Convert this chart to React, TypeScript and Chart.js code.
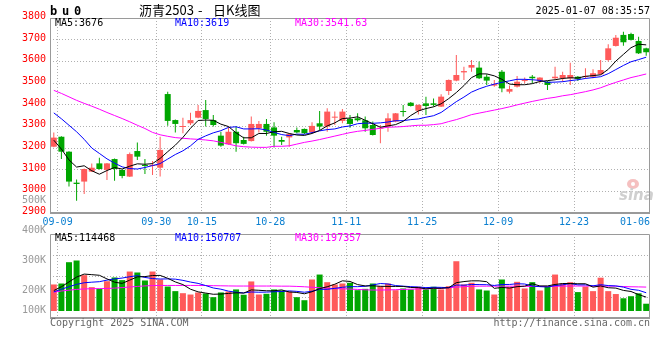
import React, { useEffect, useRef } from "react";
import { Chart, registerables } from "chart.js";

Chart.register(...registerables);

const dates = [
  "09-09","09-10","09-11","09-12","09-13","09-18","09-19","09-20","09-23","09-24",
  "09-25","09-26","09-27","09-30","10-08","10-09","10-10","10-11","10-14","10-15",
  "10-16","10-17","10-18","10-21","10-22","10-23","10-24","10-25","10-28","10-29",
  "10-30","10-31","11-01","11-04","11-05","11-06","11-07","11-08","11-11","11-12",
  "11-13","11-14","11-15","11-18","11-19","11-20","11-21","11-22","11-25","11-26",
  "11-27","11-28","11-29","12-02","12-03","12-04","12-05","12-06","12-09","12-10",
  "12-11","12-12","12-13","12-16","12-17","12-18","12-19","12-20","12-23","12-24",
  "12-25","12-26","12-27","12-30","12-31","01-02","01-03","01-06","01-07",
];

const opens = [
  3206, 3252, 3183, 3040, 3045, 3091, 3129, 3099, 3149, 3099,
  3068, 3186, 3122, 3117, 3109, 3449, 3329, 3297, 3314, 3340,
  3375, 3329, 3257, 3217, 3275, 3237, 3232, 3291, 3311, 3295,
  3237, 3249, 3283, 3288, 3272, 3314, 3299, 3340, 3325, 3334,
  3337, 3328, 3306, 3289, 3299, 3322, 3369, 3409, 3372, 3406,
  3406, 3391, 3463, 3511, 3549, 3571, 3571, 3529, 3488, 3552,
  3460, 3483, 3509, 3529, 3509, 3506, 3522, 3522, 3522, 3529,
  3528, 3529, 3540, 3606, 3671, 3722, 3726, 3694, 3660,
];
const highs = [
  3271, 3254, 3185, 3055, 3105, 3129, 3155, 3131, 3151, 3100,
  3179, 3225, 3149, 3140, 3252, 3460, 3331, 3340, 3363, 3399,
  3422, 3352, 3275, 3299, 3299, 3252, 3345, 3325, 3334, 3319,
  3252, 3266, 3295, 3290, 3319, 3371, 3383, 3368, 3380, 3352,
  3360, 3345, 3322, 3306, 3360, 3362, 3399, 3412, 3401, 3437,
  3429, 3448, 3516, 3629, 3575, 3606, 3599, 3540, 3514, 3560,
  3488, 3532, 3525, 3537, 3527, 3509, 3575, 3552, 3594, 3532,
  3568, 3563, 3606, 3679, 3722, 3737, 3732, 3714, 3663,
];
const lows = [
  3204, 3149, 3022, 2957, 2988, 3089, 3101, 3052, 3049, 3060,
  3066, 3145, 3080, 3075, 3068, 3303, 3272, 3268, 3306, 3337,
  3299, 3299, 3206, 3215, 3183, 3216, 3230, 3272, 3257, 3202,
  3214, 3206, 3268, 3265, 3270, 3283, 3275, 3306, 3314, 3294,
  3322, 3275, 3258, 3222, 3275, 3319, 3345, 3391, 3355, 3352,
  3391, 3389, 3445, 3508, 3514, 3552, 3519, 3491, 3483, 3457,
  3452, 3479, 3499, 3499, 3500, 3468, 3518, 3506, 3491, 3509,
  3519, 3522, 3538, 3599, 3668, 3672, 3696, 3634, 3626,
];
const closes = [
  3248, 3183, 3045, 3034, 3103, 3109, 3103, 3129, 3103, 3071,
  3172, 3160, 3117, 3122, 3191, 3325, 3311, 3299, 3329, 3371,
  3334, 3306, 3211, 3275, 3222, 3219, 3311, 3311, 3275, 3257,
  3229, 3265, 3272, 3268, 3302, 3299, 3368, 3343, 3368, 3311,
  3328, 3291, 3260, 3292, 3337, 3360, 3366, 3394, 3399, 3394,
  3399, 3437, 3514, 3537, 3555, 3583, 3522, 3511, 3495, 3475,
  3472, 3506, 3511, 3522, 3525, 3491, 3529, 3537, 3537, 3519,
  3531, 3545, 3560, 3660, 3709, 3688, 3699, 3637, 3642,
];

const ma5 = [
  3236, 3195, 3145, 3112, 3118, 3095, 3079, 3096, 3110, 3103,
  3116, 3127, 3125, 3128, 3152, 3183, 3213, 3249, 3291, 3327,
  3329, 3328, 3310, 3299, 3270, 3247, 3247, 3267, 3267, 3275,
  3277, 3267, 3260, 3258, 3267, 3281, 3302, 3316, 3336, 3338,
  3344, 3328, 3312, 3296, 3302, 3308, 3323, 3350, 3371, 3382,
  3390, 3404, 3428, 3456, 3488, 3525, 3542, 3542, 3533, 3517,
  3495, 3492, 3492, 3497, 3507, 3511, 3515, 3521, 3524, 3523,
  3531, 3534, 3538, 3563, 3601, 3632, 3663, 3679, 3676,
];
const ma10 = [
  3362, 3335, 3305, 3275, 3240, 3200, 3175, 3150, 3130, 3113,
  3105, 3103, 3110, 3119, 3128, 3149, 3170, 3187, 3210, 3240,
  3256, 3270, 3280, 3295, 3298, 3288, 3288, 3289, 3283, 3272,
  3262, 3257, 3264, 3263, 3271, 3279, 3285, 3288, 3297, 3302,
  3312, 3315, 3314, 3316, 3320, 3326, 3326, 3331, 3334, 3342,
  3349, 3364, 3389, 3414, 3435, 3458, 3473, 3485, 3495, 3503,
  3510, 3517, 3517, 3515, 3512, 3503, 3504, 3506, 3511, 3515,
  3521, 3525, 3529, 3543, 3562, 3581, 3598, 3608, 3619,
];
const ma30 = [
  3466, 3452, 3436, 3420, 3406, 3393, 3379, 3364, 3350, 3336,
  3321, 3305, 3290, 3272, 3261, 3254, 3248, 3245, 3242, 3240,
  3237, 3233, 3226, 3218, 3210, 3206, 3204, 3203, 3203, 3208,
  3208, 3210, 3218, 3226, 3232, 3239, 3247, 3255, 3263, 3271,
  3277, 3281, 3286, 3291, 3296, 3297, 3299, 3302, 3305, 3305,
  3308, 3312, 3322, 3331, 3342, 3354, 3361, 3368, 3375, 3382,
  3390, 3399, 3407, 3415, 3422, 3429, 3434, 3441, 3446, 3453,
  3460, 3468, 3478, 3491, 3503, 3514, 3525, 3533, 3541.63,
];

const volumes = [
  219000, 227000, 403000, 417000, 296000, 197000, 183000, 246000, 277000, 255000,
  326000, 318000, 252000, 326000, 260000, 202000, 164000, 147000, 136000, 153000,
  145000, 114000, 153000, 161000, 178000, 134000, 244000, 136000, 142000, 178000,
  169000, 161000, 114000, 89000, 260000, 301000, 238000, 219000, 227000, 233000,
  172000, 183000, 227000, 205000, 227000, 172000, 186000, 178000, 200000, 178000,
  200000, 178000, 205000, 411000, 219000, 233000, 178000, 169000, 136000, 260000,
  200000, 241000, 186000, 238000, 169000, 202000, 301000, 227000, 238000, 156000,
  202000, 164000, 275000, 164000, 140000, 105000, 122000, 146000, 60000,
];
const volMa5 = [
  169000, 200000, 240000, 280000, 305000, 300000, 295000, 265000, 238000, 228000,
  255000, 282000, 284000, 293000, 294000, 270000, 240000, 218000, 180000, 158000,
  148000, 138000, 140000, 145000, 150000, 148000, 174000, 171000, 167000, 167000,
  174000, 157000, 153000, 142000, 159000, 185000, 200000, 221000, 249000, 244000,
  218000, 207000, 208000, 204000, 203000, 203000, 203000, 194000, 193000, 183000,
  188000, 187000, 192000, 234000, 243000, 249000, 249000, 242000, 187000, 195000,
  189000, 201000, 205000, 225000, 207000, 207000, 219000, 227000, 227000, 225000,
  225000, 197000, 207000, 192000, 189000, 170000, 161000, 135000, 114468,
];
const volMa10 = [
  158000, 180000, 200000, 220000, 233000, 238000, 242000, 255000, 265000, 272000,
  283000, 292000, 277000, 268000, 264000, 265000, 263000, 253000, 239000, 228000,
  210000, 190000, 180000, 164000, 155000, 149000, 157000, 155000, 156000, 159000,
  161000, 166000, 162000, 155000, 163000, 179000, 179000, 187000, 196000, 201000,
  201000, 204000, 215000, 227000, 223000, 210000, 205000, 201000, 198000, 193000,
  196000, 195000, 193000, 214000, 213000, 219000, 218000, 217000, 211000, 219000,
  219000, 225000, 223000, 206000, 201000, 198000, 210000, 216000, 226000, 216000,
  216000, 208000, 217000, 210000, 207000, 197000, 179000, 171000, 150707,
];
const volMa30 = [
  155000, 165000, 172000, 178000, 182000, 184000, 185000, 186000, 189000, 193000,
  198000, 203000, 207000, 210000, 211000, 211000, 211000, 211000, 211000, 211000,
  210000, 209000, 208000, 207000, 206000, 206000, 206000, 206000, 206000, 206000,
  205000, 205000, 203000, 200000, 196000, 192000, 188000, 185000, 183000, 181000,
  178000, 175000, 173000, 173000, 174000, 176000, 178000, 180000, 182000, 183000,
  185000, 188000, 192000, 197000, 201000, 204000, 205000, 205000, 205000, 205000,
  205000, 204000, 204000, 203000, 203000, 203000, 204000, 205000, 206000, 206000,
  206000, 206000, 206000, 205000, 205000, 202000, 200000, 199000, 197357,
];

const axisLabels = ["09-09", "09-30", "10-15", "10-28", "11-11", "11-25", "12-09", "12-23", "01-06"];
const priceMin = 2900;
const priceMax = 3800;
const priceStep = 100;
const volumeTickLabels = ["500K", "400K", "300K", "200K", "100K"];
const volumeTickValues = [500000, 400000, 300000, 200000, 100000];

const UP = "#ff5a5a";
const DOWN = "#00a600";
const GRID = "#b0b0b0";
const BORDER = "#9a9a9a";
const XLAB = "#0a7fd0";
const MONO = '"DejaVu Sans Mono", "Liberation Mono", monospace';
const CJK = '"Noto Sans CJK SC", "Noto Sans", sans-serif';

function text(ctx: CanvasRenderingContext2D, s: string, x: number, y: number, color: string, font: string, align: CanvasTextAlign = "left") {
  ctx.fillStyle = color;
  ctx.font = font;
  ctx.textAlign = align;
  ctx.textBaseline = "middle";
  ctx.fillText(s, x, y);
}

export default function App() {
  const mainRef = useRef<HTMLCanvasElement>(null);
  const volRef = useRef<HTMLCanvasElement>(null);

  useEffect(() => {
    document.body.style.margin = "0";
    const n = dates.length;
    const labelIdx = axisLabels.map((l) => dates.indexOf(l));
    const gridVals = labelIdx.slice(0, -1).map((i) => i + 0.5);
    const colors = closes.map((c, i) => (c >= opens[i] ? UP : DOWN));

    const xCfg = () => ({
      type: "linear" as const,
      min: -0.5,
      max: n - 0.5,
      offset: false,
      bounds: "ticks" as const,
      ticks: { display: false },
      grid: { color: GRID, drawTicks: false, lineWidth: 1, offset: false },
      border: { display: false, dash: [1, 2] },
      afterBuildTicks: (s: any) => {
        s.ticks = gridVals.map((v) => ({ value: v }));
      },
      afterFit: (s: any) => {
        s.height = 0;
      },
    });

    const line = (vals: number[], color: string, order: number) => ({
      type: "line" as const,
      data: vals.map((v, i) => ({ x: i, y: v })),
      borderColor: color,
      borderWidth: 1,
      pointRadius: 0,
      tension: 0,
      fill: false,
      order,
    });

    const border = (chart: any, thickBottom: boolean) => {
      const { ctx, chartArea: a } = chart;
      ctx.save();
      ctx.strokeStyle = BORDER;
      ctx.lineWidth = 1;
      ctx.beginPath();
      ctx.moveTo(a.left + 0.5, a.bottom);
      ctx.lineTo(a.left + 0.5, a.top + 0.5);
      ctx.lineTo(a.right - 0.5, a.top + 0.5);
      ctx.lineTo(a.right - 0.5, a.bottom);
      ctx.stroke();
      ctx.fillStyle = BORDER;
      ctx.fillRect(a.left, a.bottom - (thickBottom ? 1 : 0), a.right - a.left, thickBottom ? 2 : 1);
      ctx.restore();
    };

    const mainDecor = {
      id: "mainDecor",
      beforeDatasetsDraw(chart: any) {
        const { ctx, chartArea: a } = chart;
        ctx.save();
        ctx.fillStyle = "rgba(236,140,140,0.55)";
        ctx.beginPath();
        ctx.ellipse(a.right - 17, a.bottom - 29, 6, 5, 0, 0, Math.PI * 2);
        ctx.fill();
        ctx.fillStyle = "#fff";
        ctx.beginPath();
        ctx.arc(a.right - 17, a.bottom - 29, 2, 0, Math.PI * 2);
        ctx.fill();
        text(ctx, "sina", a.right - 31, a.bottom - 17, "#cfcfcf", `italic bold 15px "DejaVu Sans", sans-serif`);
        ctx.restore();
      },
      afterDraw(chart: any) {
        const { ctx, chartArea: a, scales } = chart;
        border(chart, true);
        ctx.save();
        const f10 = `10px ${MONO}`;
        ctx.font = f10;
        labelIdx.forEach((k, j) => {
          const px = scales.x.getPixelForValue(k + 0.5);
          const w = ctx.measureText(axisLabels[j]).width;
          let x = px - w / 2;
          if (x + w > a.right) x = a.right - w;
          text(ctx, axisLabels[j], x, a.bottom + 9, XLAB, f10);
        });
        const titleFont = `bold 12px ${MONO}`;
        ["b", "u", "0"].forEach((ch, i) => text(ctx, ch, 50 + i * 12, 11.5, "#000", titleFont));
        text(ctx, "沥青2503", 139, 10, "#000", `13px ${CJK}`);
        text(ctx, "-", 198, 10, "#000", `13px ${CJK}`);
        text(ctx, "日K线图", 213, 10, "#000", `13px ${CJK}`);
        text(ctx, "2025-01-07 08:35:57", a.right, 11.5, "#000", f10, "right");
        text(ctx, `MA5:${ma5[n - 1]}`, 55, a.top + 5.5, "#000", f10);
        text(ctx, `MA10:${ma10[n - 1]}`, 175, a.top + 5.5, "#0000ff", f10);
        text(ctx, `MA30:${ma30[n - 1].toFixed(2)}`, 295, a.top + 5.5, "#ff00ff", f10);
        ctx.restore();
      },
    };

    const volDecor = {
      id: "volDecor",
      afterDraw(chart: any) {
        const { ctx, chartArea: a, scales } = chart;
        border(chart, true);
        ctx.save();
        const f10 = `10px ${MONO}`;
        volumeTickValues.forEach((v, i) => {
          const y = Math.min(scales.yLab.getPixelForValue(v), a.bottom - 8);
          text(ctx, volumeTickLabels[i], a.left - 4, y, "#999999", f10, "right");
        });
        text(ctx, `MA5:${volMa5[n - 1]}`, 55, a.top + 4.5, "#000", f10);
        text(ctx, `MA10:${volMa10[n - 1]}`, 175, a.top + 4.5, "#0000ff", f10);
        text(ctx, `MA30:${volMa30[n - 1]}`, 295, a.top + 4.5, "#ff00ff", f10);
        text(ctx, "Copyright 2025 SINA.COM", a.left, a.bottom + 5.5, "#666666", f10);
        text(ctx, "http://finance.sina.com.cn", a.right, a.bottom + 5.5, "#666666", f10, "right");
        ctx.restore();
      },
    };

    const main = new Chart(mainRef.current as HTMLCanvasElement, {
      type: "bar",
      data: {
        datasets: [
          line(ma5, "#000000", 0) as any,
          line(ma10, "#0000ff", 1) as any,
          line(ma30, "#ff00ff", 2) as any,
          {
            type: "bar",
            data: opens.map((o, i) => ({ x: i, y: [o, closes[i]] })),
            backgroundColor: colors,
            barThickness: 6,
            minBarLength: 1,
            grouped: false,
            inflateAmount: 0,
            order: 3,
          } as any,
          {
            type: "bar",
            data: lows.map((l, i) => ({ x: i, y: [l, highs[i]] })),
            backgroundColor: colors,
            barThickness: 1,
            grouped: false,
            inflateAmount: 0,
            order: 4,
          } as any,
        ],
      },
      options: {
        responsive: false,
        animation: false,
        devicePixelRatio: 1,
        layout: { padding: { left: 0, right: 10, top: 18, bottom: 147 } },
        plugins: { legend: { display: false }, tooltip: { enabled: false } },
        scales: {
          x: xCfg() as any,
          y: {
            min: priceMin,
            max: priceMax,
            ticks: {
              stepSize: priceStep,
              color: "#ff0000",
              font: { family: MONO, size: 10 },
              padding: 4,
              labelOffset: -1.5,
              callback: (v: any) => String(v),
            },
            grid: { color: GRID, drawTicks: false },
            border: { display: false, dash: [1, 2] },
            afterFit: (s: any) => {
              s.width = 50;
            },
          } as any,
        },
      },
      plugins: [mainDecor],
    });

    const vol = new Chart(volRef.current as HTMLCanvasElement, {
      type: "bar",
      data: {
        datasets: [
          line(volMa5, "#000000", 0) as any,
          line(volMa10, "#0000ff", 1) as any,
          line(volMa30, "#ff00ff", 2) as any,
          {
            type: "bar",
            data: volumes.map((v, i) => ({ x: i, y: v })),
            backgroundColor: colors,
            barThickness: 6,
            inflateAmount: 0,
            order: 3,
          } as any,
        ],
      },
      options: {
        responsive: false,
        animation: false,
        devicePixelRatio: 1,
        layout: { padding: { left: 0, right: 10, top: 234, bottom: 42 } },
        plugins: { legend: { display: false }, tooltip: { enabled: false } },
        scales: {
          x: xCfg() as any,
          y: {
            min: -58000,
            max: 636000,
            ticks: { display: false },
            grid: { color: GRID, drawTicks: false },
            border: { display: false, dash: [1, 2] },
            afterBuildTicks: (s: any) => {
              s.ticks = [1, 2, 3].map((k) => ({ value: s.min + ((s.max - s.min) * k) / 4 }));
            },
            afterFit: (s: any) => {
              s.width = 50;
            },
          } as any,
          yLab: {
            type: "linear",
            display: false,
            min: 109300,
            max: 388400,
          } as any,
        },
      },
      plugins: [volDecor],
    });

    return () => {
      main.destroy();
      vol.destroy();
    };
  }, []);

  return (
    <div style={{ position: "fixed", left: 0, top: 0, width: 660, height: 360, background: "#fff" }}>
      <canvas ref={mainRef} width={660} height={360} style={{ position: "absolute", left: 0, top: 0 }} />
      <canvas ref={volRef} width={660} height={360} style={{ position: "absolute", left: 0, top: 0 }} />
    </div>
  );
}
